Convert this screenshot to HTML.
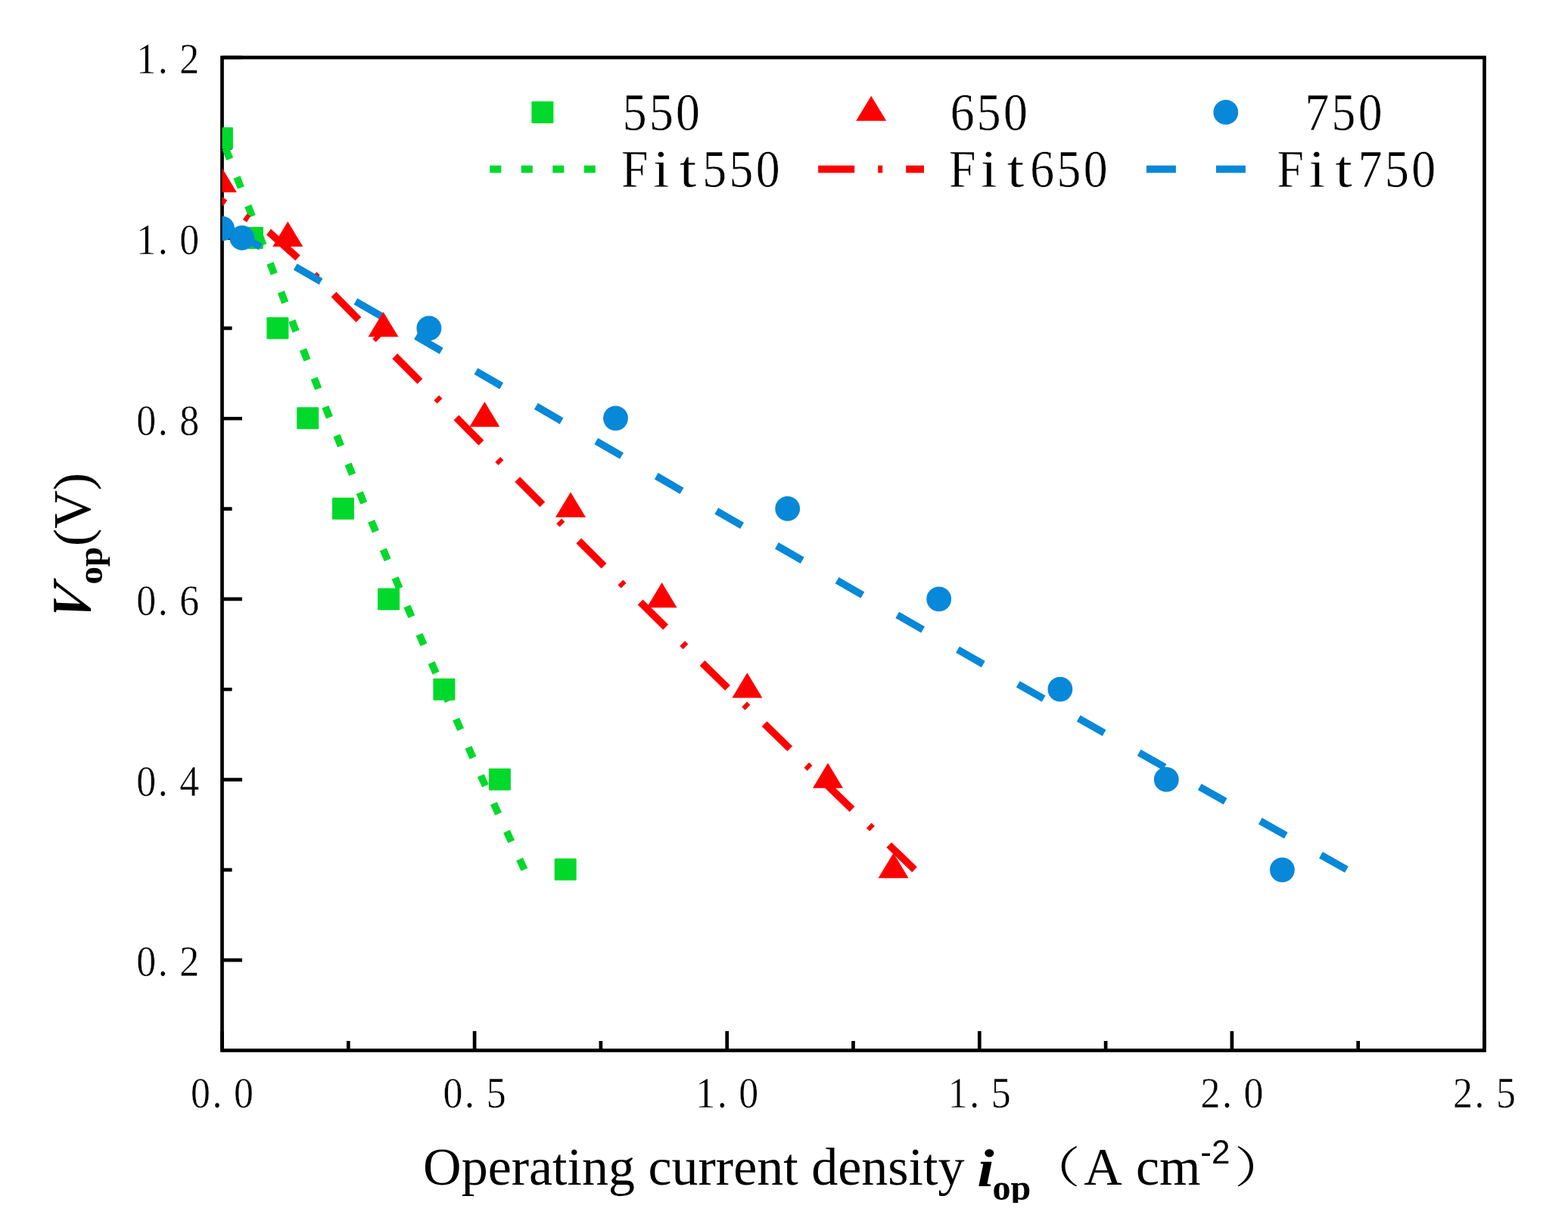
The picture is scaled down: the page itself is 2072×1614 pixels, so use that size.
<!DOCTYPE html>
<html><head><meta charset="utf-8"><title>Vop vs iop</title>
<style>
html,body{margin:0;padding:0;background:#fff;}
svg{display:block;}
.tk{font-family:"Liberation Serif","Noto Serif CJK SC",serif;stroke:#fff;stroke-width:0.45px;}
.tt{font-family:"Liberation Serif","Noto Serif CJK SC",serif;}
</style></head><body>
<svg width="2072" height="1614" viewBox="0 0 2072 1614">
<rect x="0" y="0" width="2072" height="1614" fill="#fff"/>
<defs><clipPath id="xt"><rect x="0" y="1480" width="2072" height="110"/></clipPath><clipPath id="plot"><rect x="293.5" y="76.0" width="1668.0" height="1312.5"/></clipPath></defs>

<rect x="293.5" y="76.0" width="1668.0" height="1312.5" fill="none" stroke="#000" stroke-width="4.7"/>
<path d="M293.50 1388.50V1362.90M460.30 1388.50V1375.90M627.10 1388.50V1362.90M793.90 1388.50V1375.90M960.70 1388.50V1362.90M1127.50 1388.50V1375.90M1294.30 1388.50V1362.90M1461.10 1388.50V1375.90M1627.90 1388.50V1362.90M1794.70 1388.50V1375.90M1961.50 1388.50V1362.90M293.50 1269.18H320.00M293.50 1149.86H306.60M293.50 1030.55H320.00M293.50 911.23H306.60M293.50 791.91H320.00M293.50 672.59H306.60M293.50 553.27H320.00M293.50 433.95H306.60M293.50 314.64H320.00M293.50 195.32H306.60M293.50 76.00H320.00" stroke="#000" stroke-width="4.7" fill="none"/>
<g transform="scale(0.91,1)"><text class="tk" x="212.36 236.54 275.00" y="97.30" font-size="57" text-anchor="middle" >1.2</text></g>
<g transform="scale(0.91,1)"><text class="tk" x="212.36 236.54 275.00" y="335.94" font-size="57" text-anchor="middle" >1.0</text></g>
<g transform="scale(0.91,1)"><text class="tk" x="212.36 236.54 275.00" y="574.57" font-size="57" text-anchor="middle" >0.8</text></g>
<g transform="scale(0.91,1)"><text class="tk" x="212.36 236.54 275.00" y="813.21" font-size="57" text-anchor="middle" >0.6</text></g>
<g transform="scale(0.91,1)"><text class="tk" x="212.36 236.54 275.00" y="1051.85" font-size="57" text-anchor="middle" >0.4</text></g>
<g transform="scale(0.91,1)"><text class="tk" x="212.36 236.54 275.00" y="1290.48" font-size="57" text-anchor="middle" >0.2</text></g>
<g transform="scale(0.91,1)"><text class="tk" x="291.21 315.38 353.85" y="1464.10" font-size="57" text-anchor="middle" >0.0</text></g>
<g transform="scale(0.91,1)"><text class="tk" x="657.80 681.98 720.44" y="1464.10" font-size="57" text-anchor="middle" >0.5</text></g>
<g transform="scale(0.91,1)"><text class="tk" x="1024.40 1048.57 1087.03" y="1464.10" font-size="57" text-anchor="middle" >1.0</text></g>
<g transform="scale(0.91,1)"><text class="tk" x="1390.99 1415.16 1453.63" y="1464.10" font-size="57" text-anchor="middle" >1.5</text></g>
<g transform="scale(0.91,1)"><text class="tk" x="1757.58 1781.76 1820.22" y="1464.10" font-size="57" text-anchor="middle" >2.0</text></g>
<g transform="scale(0.91,1)"><text class="tk" x="2124.18 2148.35 2186.81" y="1464.10" font-size="57" text-anchor="middle" >2.5</text></g>
<g clip-path="url(#plot)">
<rect x="278.90" y="168.30" width="29.0" height="29.0" rx="1.2" fill="#00d92b"/>
<rect x="319.00" y="299.90" width="29.0" height="29.0" rx="1.2" fill="#00d92b"/>
<rect x="352.40" y="419.30" width="29.0" height="29.0" rx="1.2" fill="#00d92b"/>
<rect x="392.20" y="538.30" width="29.0" height="29.0" rx="1.2" fill="#00d92b"/>
<rect x="439.00" y="657.70" width="29.0" height="29.0" rx="1.2" fill="#00d92b"/>
<rect x="499.10" y="777.40" width="29.0" height="29.0" rx="1.2" fill="#00d92b"/>
<rect x="572.40" y="896.70" width="29.0" height="29.0" rx="1.2" fill="#00d92b"/>
<rect x="645.90" y="1015.70" width="29.0" height="29.0" rx="1.2" fill="#00d92b"/>
<rect x="732.70" y="1134.80" width="29.0" height="29.0" rx="1.2" fill="#00d92b"/>
<path d="M293.2 183.4 L344.3 314.6 L389.6 433.9 L435.9 553.2 L483.8 672.5 L533.8 791.8 L585.3 911.1 L637.6 1030.4 L693.0 1149.7" fill="none" stroke="#00d92b" stroke-width="9.6" stroke-dasharray="15 25.679" stroke-dashoffset="26.90" stroke-linejoin="miter"/>
<path d="M255.8 240.2 L297.5 268.6 L326.1 288.1 L355.2 306.6 L393.6 341.0" fill="none" stroke="#ff0000" stroke-width="9.6" stroke-dasharray="51.500 31.500 6.000 31.500" stroke-dashoffset="0.96"/><path d="M393.6 341.0 L485.0 433.9 L604.0 553.2 L722.3 672.5 L841.8 791.8 L963.3 911.1 L1085.4 1030.4 L1208.7 1149.7" fill="none" stroke="#ff0000" stroke-width="9.6" stroke-dasharray="47.000 30.917 6.000 30.917" stroke-dashoffset="47.28"/>
<path d="M297.0 300.0 L324.0 314.6 L531.7 433.9 L736.3 553.2 L941.8 672.5 L1148.9 791.8 L1357.1 911.1 L1567.9 1030.4 L1780.0 1149.7" fill="none" stroke="#0788d8" stroke-width="9.6" stroke-dasharray="39 52.910" stroke-dashoffset="76.75"/>
<path d="M292.90 221.17L312.90 254.37L272.90 254.37Z" fill="#ff0000"/>
<path d="M380.30 292.87L400.30 326.07L360.30 326.07Z" fill="#ff0000"/>
<path d="M506.50 412.17L526.50 445.37L486.50 445.37Z" fill="#ff0000"/>
<path d="M640.40 531.07L660.40 564.27L620.40 564.27Z" fill="#ff0000"/>
<path d="M754.00 650.57L774.00 683.77L734.00 683.77Z" fill="#ff0000"/>
<path d="M874.60 769.97L894.60 803.17L854.60 803.17Z" fill="#ff0000"/>
<path d="M987.40 889.37L1007.40 922.57L967.40 922.57Z" fill="#ff0000"/>
<path d="M1094.00 1008.47L1114.00 1041.67L1074.00 1041.67Z" fill="#ff0000"/>
<path d="M1180.60 1127.47L1200.60 1160.67L1160.60 1160.67Z" fill="#ff0000"/>
<circle cx="293.60" cy="302.10" r="16.4" fill="#0788d8"/>
<circle cx="319.85" cy="314.50" r="16.4" fill="#0788d8"/>
<circle cx="566.90" cy="433.90" r="16.4" fill="#0788d8"/>
<circle cx="813.50" cy="552.80" r="16.4" fill="#0788d8"/>
<circle cx="1040.70" cy="672.30" r="16.4" fill="#0788d8"/>
<circle cx="1240.70" cy="791.90" r="16.4" fill="#0788d8"/>
<circle cx="1400.90" cy="911.10" r="16.4" fill="#0788d8"/>
<circle cx="1541.30" cy="1030.40" r="16.4" fill="#0788d8"/>
<circle cx="1694.40" cy="1149.80" r="16.4" fill="#0788d8"/>
</g>
<rect x="702.40" y="133.90" width="29.0" height="29.0" rx="1.2" fill="#00d92b"/>
<path d="M1151.20 126.67L1171.20 159.87L1131.20 159.87Z" fill="#ff0000"/>
<circle cx="1619.80" cy="148.40" r="16.4" fill="#0788d8"/>
<path d="M647.3 223.6H790" stroke="#00d92b" stroke-width="9.6" stroke-dasharray="15 26.5"/>
<path d="M1081.2 223.6H1221" stroke="#ff0000" stroke-width="9.6" stroke-dasharray="48 31 6 31"/>
<path d="M1514.9 223.6H1647" stroke="#0788d8" stroke-width="9.6" stroke-dasharray="39 53"/>
<g transform="scale(0.91,1)"><text class="tk" x="921.54 960.22 998.90" y="172.20" font-size="70" text-anchor="middle" >550</text></g>
<g transform="scale(0.91,1)"><text class="tk" y="247.50" font-size="70" text-anchor="middle" ><tspan x="921.54">F</tspan><tspan x="960.22" textLength="23.74" lengthAdjust="spacingAndGlyphs">i</tspan><tspan x="998.90" textLength="24.91" lengthAdjust="spacingAndGlyphs">t</tspan><tspan x="1037.58">5</tspan><tspan x="1076.26">5</tspan><tspan x="1114.95">0</tspan></text></g>
<g transform="scale(0.91,1)"><text class="tk" x="1397.36 1436.04 1474.73" y="172.20" font-size="70" text-anchor="middle" >650</text></g>
<g transform="scale(0.91,1)"><text class="tk" y="247.50" font-size="70" text-anchor="middle" ><tspan x="1397.36">F</tspan><tspan x="1436.04" textLength="23.74" lengthAdjust="spacingAndGlyphs">i</tspan><tspan x="1474.73" textLength="24.91" lengthAdjust="spacingAndGlyphs">t</tspan><tspan x="1513.41">6</tspan><tspan x="1552.09">5</tspan><tspan x="1590.77">0</tspan></text></g>
<g transform="scale(0.91,1)"><text class="tk" x="1873.74 1912.42 1951.10 1989.78" y="172.20" font-size="70" text-anchor="middle" >&#160;750</text></g>
<g transform="scale(0.91,1)"><text class="tk" y="247.50" font-size="70" text-anchor="middle" ><tspan x="1873.74">F</tspan><tspan x="1912.42" textLength="23.74" lengthAdjust="spacingAndGlyphs">i</tspan><tspan x="1951.10" textLength="24.91" lengthAdjust="spacingAndGlyphs">t</tspan><tspan x="1989.78">7</tspan><tspan x="2028.46">5</tspan><tspan x="2067.14">0</tspan></text></g>
<text class="tt" y="1566.3" font-size="70" clip-path="url(#xt)"><tspan x="559.1">Operating current density</tspan><tspan x="1291.2" y="1567.6" font-weight="bold" font-style="italic" textLength="22.5" lengthAdjust="spacingAndGlyphs">i</tspan><tspan x="1311.5" y="1585.6" font-weight="bold" font-size="48">op</tspan><tspan x="1356" y="1562.6" font-size="57" font-family="Liberation Serif, Noto Serif CJK SC, serif" textLength="71.8" lengthAdjust="spacingAndGlyphs">（</tspan><tspan x="1432.3" y="1566.3">A </tspan><tspan x="1501">cm</tspan><tspan x="1586.3" y="1537.8" font-family="Liberation Sans, sans-serif" font-size="44">-2</tspan><tspan x="1631.1" y="1562.6" font-size="57" font-family="Liberation Serif, Noto Serif CJK SC, serif" textLength="71.8" lengthAdjust="spacingAndGlyphs">）</tspan></text>
<text class="tt" transform="translate(118.8,815.45) rotate(-90) translate(-9.25,0) skewX(-14.15) scale(0.91,1)" x="0" y="0" font-size="73" font-weight="bold" font-style="italic">V</text>
<text class="tt" transform="translate(118.8,815.45) rotate(-90)" y="0" font-size="73"><tspan x="42.9" y="16.5" font-weight="bold" font-size="47">op</tspan><tspan x="93.4" y="0" font-size="70">(V)</tspan></text>
</svg>
</body></html>
